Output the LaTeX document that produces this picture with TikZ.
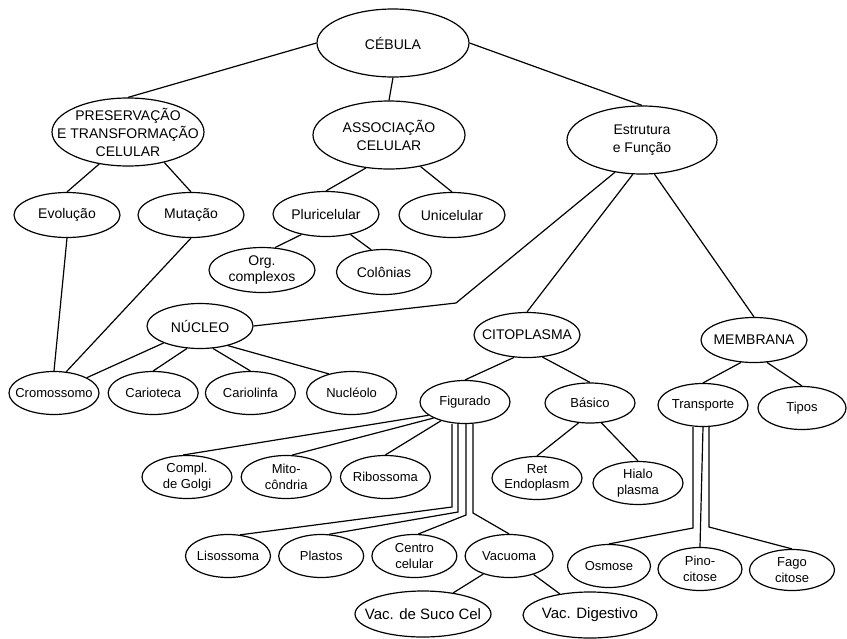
\documentclass[tikz,border=0pt]{standalone}
\usepackage{fontspec}
\setmainfont{Liberation Sans}
\usetikzlibrary{shapes.geometric,positioning}

\begin{document}
\begin{tikzpicture}[
  x=1pt, y=-1pt,
  bub/.style={draw, ellipse, line width=1.2pt, inner xsep=-60pt, inner ysep=-35pt, align=center, font=\fontsize{13}{15.5}\selectfont},
  big/.style={bub, minimum width=152pt, minimum height=68pt, font=\fontsize{14}{18}\selectfont},
  mid/.style={bub, minimum width=106pt, minimum height=45pt, font=\fontsize{14}{16}\selectfont},
  small/.style={bub, minimum width=90pt, minimum height=43pt},
  wide/.style={bub, minimum width=136pt, minimum height=46pt, font=\fontsize{15}{17}\selectfont},
  link/.style={line width=1.2pt},
]
  \useasboundingbox (0,0) rectangle (847,638);

  \node[big] (cel) at (393,43) {CÉBULA};
  \node[big] (pres) at (128,132) {PRESERVAÇÃO\\E TRANSFORMAÇÃO\\CELULAR};
  \node[big] (asso) at (389,135) {ASSOCIAÇÃO\\CELULAR};
  \node[big, minimum width=150pt] (estr) at (642,140) {Estrutura\\e Função};

  \node[mid] (evo) at (67,215) {Evolução};
  \node[mid] (mut) at (191,215) {Mutação};
  \node[mid] (plu) at (326,214) {Pluricelular};
  \node[mid] (uni) at (452,215) {Unicelular};
  \node[mid] (org) at (262,270) {Org.\\complexos};
  \node[mid, minimum width=95pt] (col) at (384,272) {Colônias};

  \node[mid] (nuc) at (200,326) {NÚCLEO};
  \node[mid] (cit) at (527,335) {CITOPLASMA};
  \node[mid] (mem) at (754,340) {MEMBRANA};

  \node[small] (cro) at (54,393) {Cromossomo};
  \node[small, right=8pt of cro] (car) {Carioteca};
  \node[small, right=6pt of car] (cli) {Cariolinfa};
  \node[small, right=10pt of cli] (ncl) {Nucléolo};

  \node[small] (fig) at (465,402) {Figurado};
  \node[small, minimum height=40pt] (bas) at (590,403) {Básico};
  \node[small] (tra) at (703,405) {Transporte};
  \node[small, minimum width=88pt] (tip) at (802,408) {Tipos};

  \node[small] (gol) at (187,477) {Compl.\\de Golgi};
  \node[small, right=8pt of gol] (mit) {Mito-\\côndria};
  \node[small, right=8pt of mit] (rib) {Ribossoma};
  \node[small] (ret) at (537,478) {Ret\\Endoplasm};
  \node[small] (hia) at (638,483) {Hialo\\plasma};

  \node[small, minimum width=85pt] (lis) at (228,556) {Lisossoma};
  \node[small, minimum width=85pt, right=7pt of lis] (pla) {Plastos};
  \node[small, minimum width=85pt, right=7pt of pla] (cen) {Centro\\celular};
  \node[small, minimum width=88pt, right=7pt of cen] (vac) {Vacuoma};
  \node[small, minimum width=83pt] (osm) at (609,566) {Osmose};
  \node[small, minimum width=84pt] (pin) at (700,569) {Pino-\\citose};
  \node[small, minimum width=85pt, minimum height=41pt] (fag) at (792,570) {Fago\\citose};

  \node[wide] (vsc) at (423,614) {Vac. de Suco Cel};
  \node[wide, minimum width=134pt] (vdg) at (590,615) {Vac. Digestivo};

  \coordinate (kink) at (456,303);
  \coordinate (k1) at (452,507);
  \coordinate (k2) at (458,512);
  \coordinate (k3) at (466,515);
  \coordinate (k4) at (473,513);
  \coordinate (t1) at (693,528);
  \coordinate (t3) at (709,527);

  \draw[link] (cel.west) -- (pres.north);
  \draw[link] (cel.south) -- (asso.north);
  \draw[link] (cel.east) -- (estr.north);

  \draw[link] (pres.228) -- (evo.north);
  \draw[link] (pres.320) -- (mut.north);
  \draw[link] (asso.235) -- (plu.north);
  \draw[link] (asso.315) -- (uni.north);
  \draw[link] (plu.220) -- (org.60);
  \draw[link] (plu.320) -- (col.120);

  \draw[link] (evo.south) -- (cro.north);
  \draw[link] (mut.south) -- (cro.60);
  \draw[link] (estr.230) -- (kink) -- (nuc.east);
  \draw[link] (estr.255) -- (cit.north);
  \draw[link] (estr.290) -- (mem.north);

  \draw[link] (nuc.205) -- (cro.25);
  \draw[link] (nuc.240) -- (car.north);
  \draw[link] (nuc.300) -- (cli.north);
  \draw[link] (nuc.325) -- (ncl.140);

  \draw[link] (cit.240) -- (fig.north);
  \draw[link] (cit.305) -- (bas.north);
  \draw[link] (mem.240) -- (tra.north);
  \draw[link] (mem.300) -- (tip.north);

  \draw[link] (fig.200) -- (gol.100);
  \draw[link] (fig.207) -- (mit.75);
  \draw[link] (fig.218) -- (rib.north);
  \draw[link] (fig.south -| k1) -- (k1) -- (lis.60);
  \draw[link] (fig.south -| k2) -- (k2) -- (pla.70);
  \draw[link] (fig.south -| k3) -- (k3) -- (cen.80);
  \draw[link] (fig.south -| k4) -- (k4) -- (vac.north);
  \draw[link] (bas.240) -- (ret.north);
  \draw[link] (bas.300) -- (hia.north);

  \draw[link] (tra.south -| t1) -- (t1) -- (osm.north);
  \draw[link] (tra.south) -- (pin.north);
  \draw[link] (tra.south -| t3) -- (t3) -- (fag.north);

  \draw[link] (vac.215) -- (vsc.35);
  \draw[link] (vac.323) -- (vdg.145);
\end{tikzpicture}
\end{document}
